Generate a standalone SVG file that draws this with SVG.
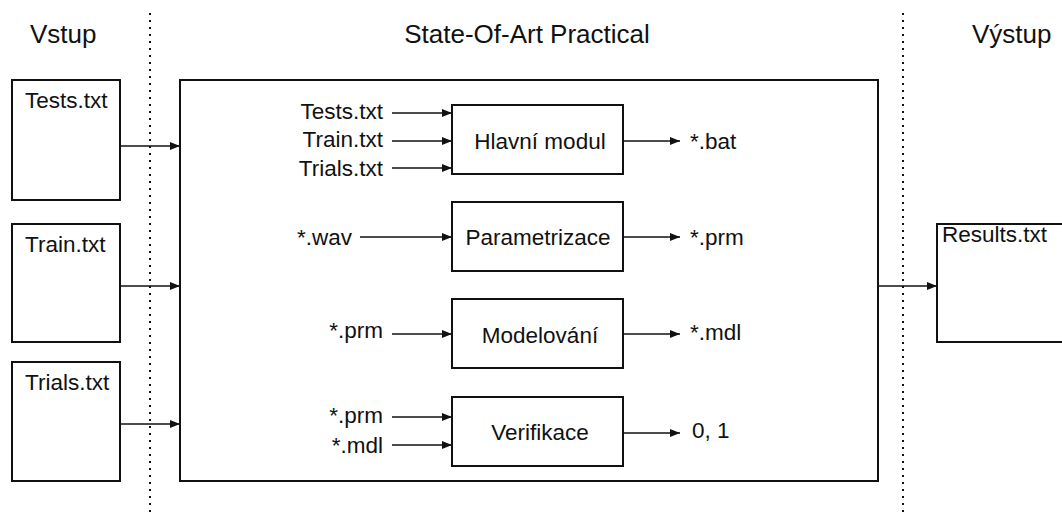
<svg xmlns="http://www.w3.org/2000/svg" width="1062" height="521" viewBox="0 0 1062 521">
<style>
.box{fill:#fff;stroke:#111;stroke-width:2}
.t{font-family:"Liberation Sans",Arial,sans-serif;font-size:22.5px;fill:#111}
.h{font-family:"Liberation Sans",Arial,sans-serif;font-size:26px;fill:#111}
.c{stroke:#111;stroke-width:1.6;fill:none;marker-end:url(#a)}
.d{stroke:#111;stroke-width:2;stroke-dasharray:2 5}
</style>
<defs>
<marker id="a" viewBox="0 0 10 10" refX="10" refY="5" markerWidth="11" markerHeight="10" markerUnits="userSpaceOnUse" orient="auto">
<path d="M0,1 L10,5 L0,9 z" fill="#111"/>
</marker>
</defs>
<rect width="1062" height="521" fill="#fff"/>
<line class="d" x1="150" y1="13" x2="150" y2="515"/>
<line class="d" x1="903" y1="13" x2="903" y2="515"/>
<text class="h" x="30" y="43">Vstup</text>
<text class="h" x="527" y="43" text-anchor="middle">State-Of-Art Practical</text>
<text class="h" x="972" y="43">Výstup</text>
<g id="tests"><rect class="box" x="12" y="80" width="108" height="120"/><text class="t" x="25" y="108">Tests.txt</text></g>
<g id="train"><rect class="box" x="12" y="224" width="108" height="118"/><text class="t" x="25" y="252">Train.txt</text></g>
<g id="trials"><rect class="box" x="12" y="362" width="108" height="119"/><text class="t" x="25" y="390">Trials.txt</text></g>
<g id="main"><rect class="box" x="180" y="80" width="698" height="401"/></g>
<g id="results"><rect class="box" x="937" y="224" width="130" height="118"/><text class="t" x="942" y="242">Results.txt</text></g>
<g id="hlavni"><rect class="box" x="452" y="105" width="171" height="69"/><text class="t" x="540" y="149" text-anchor="middle">Hlavní modul</text></g>
<g id="param"><rect class="box" x="452" y="202" width="171" height="69"/><text class="t" x="538" y="245" text-anchor="middle">Parametrizace</text></g>
<g id="model"><rect class="box" x="452" y="299" width="171" height="69"/><text class="t" x="540" y="343" text-anchor="middle">Modelování</text></g>
<g id="verif"><rect class="box" x="452" y="397" width="171" height="69"/><text class="t" x="540" y="440" text-anchor="middle">Verifikace</text></g>
<g id="labels">
<text class="t" x="383" y="119" text-anchor="end">Tests.txt</text>
<text class="t" x="383" y="147" text-anchor="end">Train.txt</text>
<text class="t" x="383" y="176" text-anchor="end">Trials.txt</text>
<text class="t" x="690" y="149">*.bat</text>
<text class="t" x="352" y="245" text-anchor="end">*.wav</text>
<text class="t" x="690" y="245">*.prm</text>
<text class="t" x="383" y="338" text-anchor="end">*.prm</text>
<text class="t" x="690" y="340">*.mdl</text>
<text class="t" x="383" y="423" text-anchor="end">*.prm</text>
<text class="t" x="383" y="453" text-anchor="end">*.mdl</text>
<text class="t" x="692" y="438">0, 1</text>
</g>
<g id="connectors">
<line class="c" x1="120" y1="146" x2="180" y2="146"/>
<line class="c" x1="120" y1="286" x2="180" y2="286"/>
<line class="c" x1="120" y1="424" x2="180" y2="424"/>
<line class="c" x1="878" y1="286" x2="937" y2="286"/>
<line class="c" x1="392" y1="113" x2="452" y2="113"/>
<line class="c" x1="392" y1="141" x2="452" y2="141"/>
<line class="c" x1="392" y1="168" x2="452" y2="168"/>
<line class="c" x1="623" y1="141" x2="680" y2="141"/>
<line class="c" x1="360" y1="237" x2="452" y2="237"/>
<line class="c" x1="623" y1="237" x2="680" y2="237"/>
<line class="c" x1="392" y1="334" x2="452" y2="334"/>
<line class="c" x1="623" y1="334" x2="680" y2="334"/>
<line class="c" x1="392" y1="417" x2="452" y2="417"/>
<line class="c" x1="392" y1="445" x2="452" y2="445"/>
<line class="c" x1="623" y1="433" x2="680" y2="433"/>
</g>
</svg>
